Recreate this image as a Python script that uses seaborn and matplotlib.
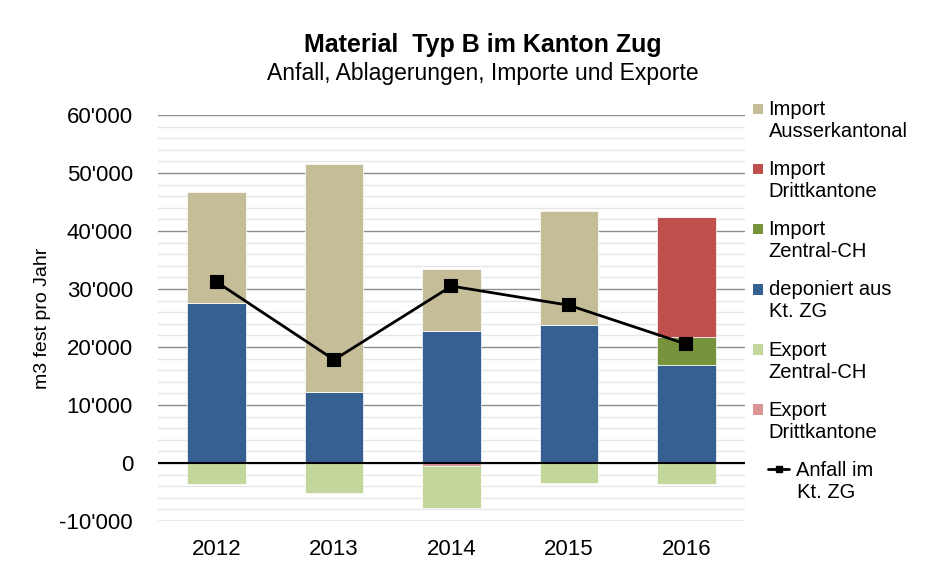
import numpy as np
import pandas as pd
import seaborn as sns
import matplotlib.pyplot as plt
from matplotlib.patches import Patch, Rectangle
from matplotlib.lines import Line2D
from matplotlib.legend_handler import HandlerPatch, HandlerLine2D
from matplotlib.ticker import MultipleLocator, FuncFormatter

# Werte (m3 fest pro Jahr)
jahre = ['2012', '2013', '2014', '2015', '2016']
deponiert_zg = [27600, 12200, 22800, 23800, 16900]
import_zentral = [0, 0, 0, 0, 4800]
import_dritt = [0, 0, 0, 0, 20700]
import_ausser = [19100, 39400, 10700, 19600, 0]
export_dritt = [0, 0, -500, 0, 0]
export_zentral = [-3600, -5200, -7300, -3400, -3600]
anfall_zg = [31200, 17800, 30500, 27200, 20500]

farben = {
    'Import\nAusserkantonal': '#C4BD97',
    'Import\nDrittkantone': '#C0504D',
    'Import\nZentral-CH': '#77933C',
    'deponiert aus\nKt. ZG': '#366092',
    'Export\nZentral-CH': '#C3D69B',
    'Export\nDrittkantone': '#DA9694',
}

sns.set_theme(style='white')
plt.rcParams['font.family'] = ['Liberation Sans', 'DejaVu Sans']
plt.rcParams['text.color'] = 'black'
plt.rcParams['axes.labelcolor'] = 'black'
plt.rcParams['xtick.color'] = 'black'
plt.rcParams['ytick.color'] = 'black'


# Legendensymbol auf Hoehe der ersten Textzeile (wie in Excel)
class ObenPatch(HandlerPatch):
    def create_artists(self, legend, orig_handle, xdescent, ydescent, width, height, fontsize, trans):
        s = 0.52 * fontsize
        y = -ydescent + height / 2 - s / 2 + 0.6 * fontsize
        r = Rectangle((-xdescent, y), s, s, facecolor=orig_handle.get_facecolor(),
                      edgecolor='none', transform=trans)
        return [r]


class ObenLinie(HandlerLine2D):
    def create_artists(self, legend, orig_handle, xdescent, ydescent, width, height, fontsize, trans):
        artists = super().create_artists(legend, orig_handle, xdescent, ydescent,
                                         width, height, fontsize, trans)
        x0 = -xdescent + 0.75 * fontsize
        x1 = -xdescent + 1.8 * fontsize
        for a in artists:
            y = np.asarray(a.get_ydata(), dtype=float) + 0.6 * fontsize
            n = len(y)
            a.set_data(np.linspace(x0, x1, n), y)
        return artists


fig = plt.figure(figsize=(9.42, 5.81), dpi=100)
ax = fig.add_axes([158 / 942, 60 / 581, 587 / 942, 406 / 581])

# positive Stapel: deponiert, Import Zentral-CH, Import Drittkantone, Import Ausserkantonal
positiv = [
    ('deponiert aus\nKt. ZG', deponiert_zg),
    ('Import\nZentral-CH', import_zentral),
    ('Import\nDrittkantone', import_dritt),
    ('Import\nAusserkantonal', import_ausser),
]
unten = np.zeros(len(jahre))
for name, werte in positiv:
    sns.barplot(x=jahre, y=werte, bottom=unten, color=farben[name], width=0.5,
                edgecolor='white', linewidth=0.5, saturation=1, ax=ax)
    unten = unten + np.array(werte)

# negative Stapel: Export Drittkantone direkt unter 0, dann Export Zentral-CH
negativ = [
    ('Export\nDrittkantone', export_dritt),
    ('Export\nZentral-CH', export_zentral),
]
unten = np.zeros(len(jahre))
for name, werte in negativ:
    sns.barplot(x=jahre, y=werte, bottom=unten, color=farben[name], width=0.5,
                edgecolor='white', linewidth=0.5, saturation=1, ax=ax)
    unten = unten + np.array(werte)

# Anfall-Linie
sns.pointplot(x=jahre, y=anfall_zg, color='black', marker='s', markersize=9,
              linewidth=2, errorbar=None, ax=ax, zorder=5)

ax.axhline(0, color='black', linewidth=1.5, zorder=4)
ax.set_xlim(-0.5, 4.5)
ax.set_ylim(-10000, 60000)
ax.yaxis.set_major_locator(MultipleLocator(10000))
ax.yaxis.set_minor_locator(MultipleLocator(2000))
ax.yaxis.set_major_formatter(FuncFormatter(lambda v, p: f"{int(v):,}".replace(',', "'")))
ax.set_axisbelow(True)
ax.grid(axis='y', which='major', color='#8c8c8c', linewidth=1)
ax.grid(axis='y', which='minor', color='#e6e6e6', linewidth=1)
ax.grid(axis='x', visible=False)
for s in ax.spines.values():
    s.set_visible(False)
ax.tick_params(axis='y', which='both', length=0, labelsize=16, pad=18)
ax.tick_params(axis='x', length=0, labelsize=16, pad=13)
ax.set_xlabel('')
ax.set_ylabel('m3 fest pro Jahr', fontsize=14, labelpad=6)

fig.text(0.513, 0.922, 'Material  Typ B im Kanton Zug', ha='center', va='center',
         fontsize=18, fontweight='bold')
fig.text(0.513, 0.874, 'Anfall, Ablagerungen, Importe und Exporte', ha='center',
         va='center', fontsize=16.5)

handles = [Patch(facecolor=farben[k], edgecolor='none') for k in farben]
linie = Line2D([], [], color='black', marker='s', markersize=5, linewidth=2)
handles.append(linie)
labels = list(farben.keys()) + ['     Anfall im\n     Kt. ZG']
leg = fig.legend(handles, labels, loc='upper left', bbox_to_anchor=(753 / 942, 1 - 100 / 581),
                 frameon=False, fontsize=14.5, handlelength=0.52, handleheight=0.8,
                 handletextpad=0.25, labelspacing=0.95, borderaxespad=0, borderpad=0,
                 handler_map={Patch: ObenPatch(), Line2D: ObenLinie()})

fig.savefig('out.png', dpi=100)
